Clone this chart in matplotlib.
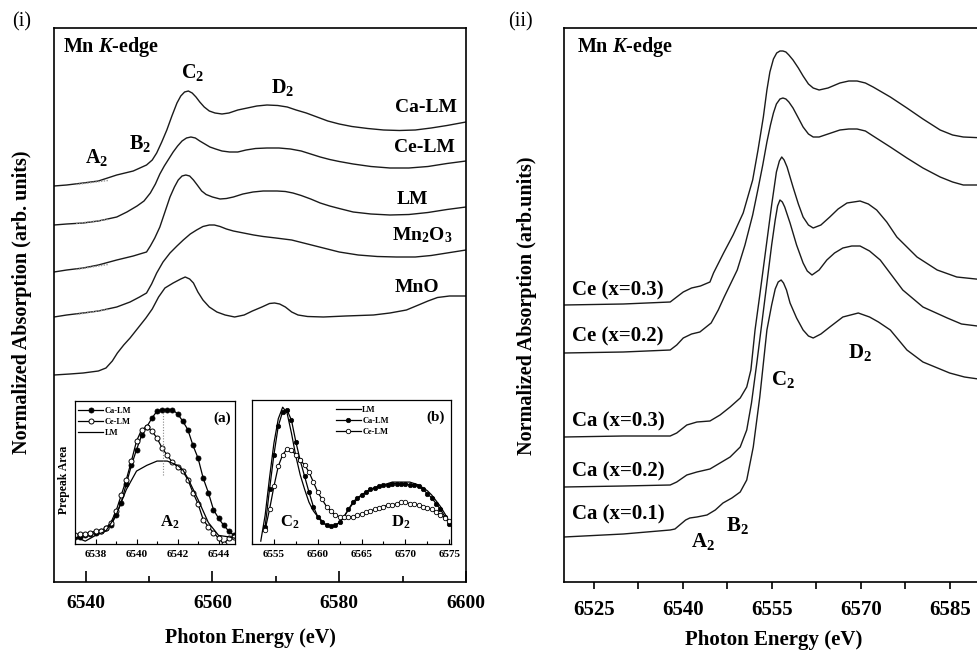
import matplotlib
matplotlib.use('Agg')
import matplotlib.pyplot as plt
from matplotlib.ticker import MultipleLocator, NullLocator

plt.rcParams['font.family'] = ['Liberation Serif', 'DejaVu Serif']
plt.rcParams['font.weight'] = 'bold'
plt.rcParams['mathtext.fontset'] = 'custom'
plt.rcParams['mathtext.rm'] = 'Liberation Serif:bold'
plt.rcParams['mathtext.it'] = 'Liberation Serif:italic:bold'
plt.rcParams['mathtext.bf'] = 'Liberation Serif:bold'

# ---------------- Panel (i): reference spectra (energy eV, normalized absorption + offset) -------------
ca_lm_E = [6535.0, 6537.0, 6539.6, 6542.0, 6544.9, 6547.5, 6549.6, 6550.5, 6551.2, 6552.0, 6552.8, 6553.6,
           6554.4, 6555.0, 6555.6, 6556.2, 6556.8, 6557.4, 6558.0, 6558.7, 6559.5, 6560.4, 6561.5, 6562.6,
           6564.0, 6565.5, 6567.0, 6568.6, 6570.3, 6571.8, 6573.2, 6574.8, 6576.5, 6578.2, 6580.0, 6582.0,
           6584.5, 6587.0, 6589.5, 6592.0, 6594.5, 6597.0, 6600.0]
ca_lm_y = [3.96, 3.97, 3.99, 4.01, 4.07, 4.11, 4.17, 4.22, 4.29, 4.40, 4.52, 4.66,
           4.79, 4.86, 4.90, 4.91, 4.89, 4.85, 4.80, 4.75, 4.71, 4.69, 4.68, 4.69,
           4.72, 4.74, 4.76, 4.77, 4.765, 4.75, 4.72, 4.69, 4.65, 4.61, 4.58, 4.555,
           4.535, 4.52, 4.515, 4.52, 4.54, 4.565, 4.60]

ce_lm_E = [6535.0, 6537.0, 6539.6, 6542.0, 6544.9, 6546.5, 6548.1, 6549.2, 6550.2, 6551.0, 6551.7, 6552.4,
           6553.0, 6553.8, 6554.5, 6555.2, 6555.9, 6556.6, 6557.3, 6558.0, 6558.8, 6559.6, 6560.5, 6561.5,
           6562.7, 6564.0, 6565.3, 6566.8, 6568.6, 6570.5, 6572.3, 6574.0, 6575.5, 6577.0, 6578.5, 6580.0,
           6582.2, 6585.0, 6588.0, 6591.0, 6594.0, 6597.0, 6600.0]
ce_lm_y = [3.57, 3.58, 3.59, 3.61, 3.65, 3.70, 3.76, 3.81, 3.89, 3.98, 4.08, 4.16,
           4.22, 4.30, 4.36, 4.41, 4.44, 4.45, 4.44, 4.41, 4.38, 4.35, 4.33, 4.31,
           4.30, 4.30, 4.32, 4.335, 4.34, 4.34, 4.33, 4.31, 4.28, 4.25, 4.225, 4.205,
           4.18, 4.155, 4.14, 4.14, 4.155, 4.185, 4.21]

lm_E = [6535.0, 6537.0, 6539.6, 6542.0, 6544.9, 6547.5, 6548.8, 6549.6, 6550.2, 6550.9, 6551.7, 6552.5,
        6553.3, 6554.0, 6554.6, 6555.2, 6555.8, 6556.4, 6557.0, 6557.6, 6558.3, 6559.0, 6560.0, 6561.2,
        6562.2, 6563.3, 6564.8, 6566.4, 6568.0, 6570.2, 6571.5, 6572.7, 6574.0, 6575.5, 6577.0, 6578.5,
        6580.0, 6582.2, 6585.0, 6588.0, 6591.0, 6594.0, 6597.0, 6600.0]
lm_y = [3.10, 3.12, 3.14, 3.17, 3.22, 3.26, 3.285, 3.30, 3.36, 3.44, 3.55, 3.70,
        3.85, 3.95, 4.02, 4.06, 4.07, 4.06, 4.02, 3.97, 3.91, 3.875, 3.85, 3.83,
        3.835, 3.85, 3.88, 3.90, 3.91, 3.91, 3.905, 3.89, 3.865, 3.83, 3.79, 3.76,
        3.735, 3.70, 3.68, 3.67, 3.675, 3.695, 3.725, 3.75]

mn2o3_E = [6535.0, 6537.0, 6539.6, 6542.0, 6544.9, 6547.0, 6548.5, 6549.6, 6550.4, 6551.2, 6552.2, 6553.3,
           6554.4, 6555.4, 6556.5, 6557.5, 6558.5, 6559.5, 6560.3, 6561.2, 6562.2, 6563.3, 6564.9, 6566.5,
           6568.0, 6570.0, 6572.5, 6575.0, 6577.5, 6580.0, 6583.0, 6586.0, 6589.0, 6592.0, 6594.5, 6597.0,
           6600.0]
mn2o3_y = [2.65, 2.67, 2.69, 2.71, 2.75, 2.80, 2.85, 2.89, 2.98, 3.09, 3.20, 3.29,
           3.36, 3.42, 3.48, 3.52, 3.555, 3.57, 3.57, 3.555, 3.53, 3.51, 3.49, 3.47,
           3.455, 3.44, 3.42, 3.38, 3.34, 3.30, 3.27, 3.255, 3.25, 3.25, 3.265, 3.29,
           3.32]

mno_E = [6535.0, 6537.5, 6539.6, 6542.0, 6543.2, 6544.2, 6545.0, 6546.0, 6547.0, 6548.5, 6549.5, 6550.5,
         6551.5, 6552.5, 6553.8, 6555.0, 6555.7, 6556.4, 6557.0, 6557.7, 6558.5, 6559.5, 6560.7, 6562.0,
         6563.5, 6565.0, 6566.3, 6567.8, 6569.0, 6569.8, 6570.6, 6571.5, 6572.5, 6573.5, 6575.0, 6577.5,
         6581.0, 6585.4, 6588.0, 6590.6, 6592.5, 6594.0, 6595.5, 6597.4, 6600.0]
mno_y = [2.07, 2.08, 2.09, 2.11, 2.14, 2.21, 2.29, 2.37, 2.44, 2.56, 2.64, 2.73,
         2.85, 2.94, 2.99, 3.03, 3.05, 3.03, 2.99, 2.90, 2.82, 2.75, 2.70, 2.67,
         2.65, 2.67, 2.71, 2.75, 2.785, 2.79, 2.78, 2.75, 2.70, 2.67, 2.655, 2.65,
         2.66, 2.67, 2.69, 2.72, 2.77, 2.81, 2.845, 2.86, 2.86]

# pre-edge baseline guides (dotted, grey)
base_E = [6538.5, 6543.5]
base_ca = [3.975, 4.015]
base_ce = [3.585, 3.625]
base_lm = [3.125, 3.175]
base_mn2o3 = [2.675, 2.725]

# ---------------- Inset (a): pre-peak A2 ----------------
a_E = [6537.0, 6537.25, 6537.5, 6537.75, 6538.0, 6538.25, 6538.5, 6538.75, 6539.0, 6539.25, 6539.5,
       6539.75, 6540.0, 6540.25, 6540.5, 6540.75, 6541.0, 6541.25, 6541.5, 6541.75, 6542.0, 6542.25,
       6542.5, 6542.75, 6543.0, 6543.25, 6543.5, 6543.75, 6544.0, 6544.25, 6544.5, 6544.75]
a_ca = [0.05, 0.05, 0.06, 0.07, 0.08, 0.09, 0.11, 0.13, 0.20, 0.29, 0.42,
        0.55, 0.66, 0.76, 0.82, 0.88, 0.93, 0.94, 0.94, 0.94, 0.91, 0.86,
        0.80, 0.69, 0.60, 0.46, 0.36, 0.24, 0.18, 0.13, 0.09, 0.06]
a_ce = [0.06, 0.07, 0.07, 0.08, 0.09, 0.09, 0.11, 0.15, 0.23, 0.34, 0.45,
        0.58, 0.72, 0.80, 0.82, 0.79, 0.74, 0.67, 0.62, 0.57, 0.54, 0.51,
        0.45, 0.36, 0.28, 0.17, 0.12, 0.08, 0.04, 0.00, 0.04, 0.05]
a_lm_E = [6537.0, 6537.5, 6538.0, 6538.5, 6539.0, 6539.5, 6540.0, 6540.5, 6541.0, 6541.5, 6542.0,
          6542.25, 6542.5, 6543.0, 6543.5, 6544.0, 6544.5, 6544.8]
a_lm = [0.05, 0.02, 0.06, 0.09, 0.20, 0.38, 0.51, 0.55, 0.58, 0.58, 0.55,
        0.52, 0.46, 0.31, 0.15, 0.06, 0.05, 0.04]

# ---------------- Inset (b): white line C2 / D2 ----------------
b_E = [6554.0, 6554.5, 6555.0, 6555.5, 6556.0, 6556.5, 6557.0, 6557.5, 6558.0, 6558.5, 6559.0,
       6559.5, 6560.0, 6560.5, 6561.0, 6561.5, 6562.0, 6562.5, 6563.0, 6563.5, 6564.0, 6564.5,
       6565.0, 6565.5, 6566.0, 6566.5, 6567.0, 6567.5, 6568.0, 6568.5, 6569.0, 6569.5, 6570.0,
       6570.5, 6571.0, 6571.5, 6572.0, 6572.5, 6573.0, 6573.5, 6574.0, 6574.5, 6575.0]
b_lm = [0.20, 0.46, 0.70, 0.87, 0.95, 0.91, 0.77, 0.61, 0.48, 0.38, 0.29,
        0.23, 0.19, 0.16, 0.13, 0.125, 0.13, 0.15, 0.19, 0.24, 0.28, 0.31,
        0.34, 0.36, 0.38, 0.39, 0.40, 0.41, 0.42, 0.43, 0.43, 0.43, 0.43,
        0.43, 0.42, 0.41, 0.39, 0.37, 0.34, 0.30, 0.26, 0.21, 0.155]
b_ca = [0.12, 0.38, 0.62, 0.82, 0.92, 0.93, 0.86, 0.71, 0.58, 0.47, 0.36,
        0.26, 0.19, 0.15, 0.13, 0.125, 0.13, 0.15, 0.19, 0.24, 0.29, 0.32,
        0.34, 0.36, 0.38, 0.39, 0.40, 0.41, 0.41, 0.42, 0.42, 0.42, 0.42,
        0.41, 0.41, 0.40, 0.38, 0.35, 0.32, 0.28, 0.24, 0.19, 0.14]
b_ce = [0.10, 0.24, 0.40, 0.54, 0.62, 0.66, 0.65, 0.62, 0.58, 0.55, 0.50,
        0.43, 0.36, 0.31, 0.26, 0.23, 0.20, 0.19, 0.19, 0.19, 0.19, 0.20,
        0.21, 0.22, 0.23, 0.24, 0.25, 0.26, 0.27, 0.27, 0.28, 0.29, 0.29,
        0.28, 0.28, 0.27, 0.26, 0.25, 0.24, 0.22, 0.20, 0.18, 0.16]
b_lm_start_E = [6553.5]
b_lm_start_y = [0.02]

# ---------------- Panel (ii): doped samples ----------------
ce03_E = [6520.0, 6530.0, 6537.9, 6539.0, 6540.1, 6541.5, 6543.0, 6544.6, 6545.2, 6546.9, 6548.5, 6550.2,
          6551.8, 6552.7, 6553.6, 6554.2, 6554.7, 6555.3, 6555.85, 6556.4, 6556.9, 6557.4, 6557.9, 6558.6,
          6559.5, 6560.3, 6561.2, 6562.0, 6563.0, 6564.5, 6566.5, 6568.0, 6569.4, 6570.8, 6572.1, 6575.0,
          6577.8, 6580.5, 6583.4, 6585.5, 6587.3, 6591.0]
ce03_y = [2.77, 2.78, 2.80, 2.85, 2.90, 2.94, 2.96, 3.00, 3.09, 3.29, 3.47, 3.69,
          4.02, 4.32, 4.65, 4.92, 5.10, 5.23, 5.29, 5.31, 5.31, 5.30, 5.27, 5.22,
          5.14, 5.06, 4.98, 4.94, 4.92, 4.94, 4.99, 5.01, 5.01, 4.99, 4.95, 4.85,
          4.74, 4.63, 4.52, 4.47, 4.45, 4.44]

ce02_E = [6520.0, 6530.0, 6537.9, 6539.0, 6540.1, 6541.5, 6542.9, 6544.8, 6546.0, 6547.0, 6549.2, 6550.5,
          6551.8, 6552.7, 6553.5, 6554.2, 6554.8, 6555.3, 6555.8, 6556.4, 6556.9, 6557.4, 6557.9, 6558.6,
          6559.5, 6560.3, 6561.2, 6562.0, 6563.0, 6564.5, 6566.5, 6568.0, 6569.4, 6570.8, 6572.1, 6575.0,
          6577.8, 6580.5, 6583.4, 6585.5, 6587.3, 6591.0]
ce02_y = [2.29, 2.30, 2.32, 2.37, 2.44, 2.48, 2.50, 2.59, 2.72, 2.85, 3.12, 3.37,
          3.67, 3.93, 4.17, 4.40, 4.57, 4.69, 4.78, 4.83, 4.84, 4.83, 4.80, 4.74,
          4.64, 4.55, 4.48, 4.45, 4.45, 4.48, 4.52, 4.53, 4.53, 4.51, 4.46, 4.35,
          4.24, 4.14, 4.05, 4.00, 3.97, 3.97]

ca03_E = [6520.0, 6530.0, 6537.9, 6539.0, 6540.7, 6542.4, 6544.6, 6546.3, 6548.0, 6549.7, 6550.8, 6551.5,
          6552.2, 6553.0, 6554.0, 6555.0, 6555.8, 6556.3, 6556.7, 6557.1, 6557.6, 6558.6, 6559.5, 6560.3,
          6561.2, 6562.0, 6563.3, 6564.8, 6566.2, 6567.7, 6569.9, 6571.3, 6572.7, 6574.4, 6576.1, 6579.5,
          6582.9, 6586.2, 6591.0]
ca03_y = [1.45, 1.46, 1.46, 1.49, 1.57, 1.60, 1.61, 1.67, 1.75, 1.84, 1.95, 2.12,
          2.52, 2.87, 3.32, 3.77, 4.10, 4.21, 4.25, 4.22, 4.15, 3.95, 3.78, 3.65,
          3.57, 3.54, 3.57, 3.65, 3.73, 3.79, 3.81, 3.78, 3.72, 3.60, 3.45, 3.25,
          3.12, 3.05, 3.02]

ca02_E = [6520.0, 6530.0, 6537.9, 6539.0, 6540.7, 6542.4, 6544.6, 6546.3, 6548.0, 6549.7, 6550.8, 6551.6,
          6552.5, 6553.2, 6554.2, 6555.0, 6555.6, 6556.0, 6556.4, 6556.8, 6557.2, 6558.1, 6559.2, 6560.3,
          6561.0, 6561.8, 6563.0, 6564.3, 6565.6, 6567.0, 6568.5, 6569.9, 6571.5, 6573.3, 6575.2, 6577.1,
          6580.5, 6584.6, 6587.0, 6591.0]
ca02_y = [0.95, 0.96, 0.97, 1.00, 1.07, 1.10, 1.13, 1.19, 1.25, 1.35, 1.52, 1.79,
          2.19, 2.52, 2.99, 3.37, 3.62, 3.76, 3.82, 3.80, 3.75, 3.59, 3.37, 3.19,
          3.11, 3.07, 3.12, 3.22, 3.29, 3.34, 3.36, 3.36, 3.31, 3.22, 3.07, 2.92,
          2.75, 2.64, 2.58, 2.55]

ca01_E = [6520.0, 6530.0, 6537.9, 6538.7, 6539.5, 6540.5, 6541.2, 6542.4, 6544.1, 6545.5, 6546.8, 6548.3,
          6549.7, 6550.8, 6551.9, 6553.0, 6554.2, 6555.0, 6555.6, 6556.1, 6556.6, 6557.0, 6557.5, 6558.1,
          6559.2, 6560.3, 6561.2, 6562.0, 6563.3, 6564.8, 6567.0, 6569.6, 6571.5, 6573.0, 6575.0, 6577.8,
          6580.5, 6585.0, 6587.5, 6591.0]
ca01_y = [0.45, 0.48, 0.52, 0.53, 0.57, 0.62, 0.64, 0.65, 0.67, 0.72, 0.79, 0.84,
          0.90, 1.02, 1.35, 1.85, 2.52, 2.77, 2.93, 3.00, 3.02, 2.99, 2.92, 2.79,
          2.64, 2.52, 2.46, 2.44, 2.48, 2.55, 2.65, 2.69, 2.65, 2.60, 2.52, 2.32,
          2.20, 2.09, 2.05, 2.02]

# ======================= FIGURE =======================
W, H = 977.0, 651.0
fig = plt.figure(figsize=(9.77, 6.51), dpi=100)

LW = 1.0
SP = 1.2

def frac(l, t, r, b):
    return [l / W, 1 - b / H, (r - l) / W, (b - t) / H]

# ---------- Panel (i) ----------
axL = fig.add_axes(frac(54, 28, 466, 582))
for E, y in [(ca_lm_E, ca_lm_y), (ce_lm_E, ce_lm_y), (lm_E, lm_y), (mn2o3_E, mn2o3_y), (mno_E, mno_y)]:
    axL.plot(E, y, color='#1a1a1a', lw=LW, solid_joinstyle='round')
for yb in [base_ca, base_ce, base_lm, base_mn2o3]:
    axL.plot(base_E, yb, color='#999999', lw=1.0, ls=(0, (1, 1)))
axL.set_xlim(6535, 6600)
axL.set_ylim(0, 5.54)
axL.yaxis.set_major_locator(NullLocator())
axL.xaxis.set_major_locator(MultipleLocator(20))
axL.xaxis.set_minor_locator(MultipleLocator(10))
axL.tick_params(axis='x', which='major', direction='in', length=8, width=1.2, labelsize=14, pad=9)
axL.tick_params(axis='x', which='minor', direction='in', length=4, width=1.2)
for s in axL.spines.values():
    s.set_linewidth(SP)
axL.set_xlabel('Photon Energy (eV)', fontsize=14.5, fontweight='bold')
axL.xaxis.set_label_coords(0.478, -0.083)
axL.set_ylabel('Normalized Absorption (arb. units)', fontsize=14.5, fontweight='bold')
axL.yaxis.set_label_coords(-0.053, 0.505)

axL.text(6536.4, 5.35, r'Mn $\mathit{K}$-edge', fontsize=14.5, ha='left', va='center')
axL.text(6556.8, 5.10, r'C$_2$', fontsize=14.5, ha='center', va='center')
axL.text(6571.1, 4.95, r'D$_2$', fontsize=14.5, ha='center', va='center')
axL.text(6548.6, 4.39, r'B$_2$', fontsize=14.5, ha='center', va='center')
axL.text(6541.8, 4.24, r'A$_2$', fontsize=14.5, ha='center', va='center')
axL.text(6598.6, 4.74, 'Ca-LM', fontsize=14, ha='right', va='center')
axL.text(6598.3, 4.34, 'Ce-LM', fontsize=14, ha='right', va='center')
axL.text(6591.6, 3.83, 'LM', fontsize=14, ha='center', va='center')
axL.text(6593.1, 3.47, r'Mn$_2$O$_3$', fontsize=14, ha='center', va='center')
axL.text(6592.3, 2.95, 'MnO', fontsize=14, ha='center', va='center')
fig.text(22 / W, 1 - 22 / H, '(i)', fontsize=14.5, fontweight='normal', ha='center', va='center')

# ---------- Inset (a) ----------
axa = fig.add_axes(frac(75, 401, 235, 544))
axa.plot(a_E, a_ca, color='black', lw=0.9, marker='o', ms=3.6, mfc='black', mec='black', mew=0.6, label='Ca-LM')
axa.plot(a_E, a_ce, color='black', lw=0.9, marker='o', ms=3.6, mfc='white', mec='black', mew=0.7, label='Ce-LM')
axa.plot(a_lm_E, a_lm, color='black', lw=0.9, label='LM')
axa.plot([6541.3, 6541.3], [0.48, 0.93], color='#888888', lw=0.8, ls=(0, (1, 1.5)))
axa.set_xlim(6537, 6544.8)
axa.set_ylim(0, 1.0)
axa.yaxis.set_major_locator(NullLocator())
axa.xaxis.set_major_locator(MultipleLocator(2))
axa.xaxis.set_minor_locator(MultipleLocator(1))
axa.tick_params(axis='x', which='major', direction='in', length=3.5, width=0.8, labelsize=8, pad=4)
axa.tick_params(axis='x', which='minor', direction='in', length=2, width=0.8)
for s in axa.spines.values():
    s.set_linewidth(0.9)
axa.set_ylabel('Prepeak Area', fontsize=8.5, fontweight='bold')
axa.yaxis.set_label_coords(-0.03, 0.45)
axa.legend(loc='upper left', bbox_to_anchor=(0.02, 0.96), frameon=False, fontsize=6,
           handlelength=3.0, handletextpad=0.2, labelspacing=0.35, borderaxespad=0, borderpad=0)
axa.text(0.92, 0.88, '(a)', transform=axa.transAxes, fontsize=11, ha='center', va='center')
axa.text(6541.6, 0.15, r'A$_2$', fontsize=12, ha='center', va='center')

# ---------- Inset (b) ----------
axb = fig.add_axes(frac(252, 400, 451, 544))
axb.plot(b_lm_start_E + b_E, b_lm_start_y + b_lm, color='black', lw=0.9, label='LM')
axb.plot(b_E, b_ca, color='black', lw=0.9, marker='o', ms=3.2, mfc='black', mec='black', mew=0.5, label='Ca-LM')
axb.plot(b_E, b_ce, color='black', lw=0.9, marker='o', ms=3.2, mfc='white', mec='black', mew=0.6, label='Ce-LM')
axb.set_xlim(6552.5, 6575.2)
axb.set_ylim(0, 1.0)
axb.yaxis.set_major_locator(NullLocator())
axb.xaxis.set_major_locator(MultipleLocator(5))
axb.xaxis.set_minor_locator(MultipleLocator(2.5))
axb.tick_params(axis='x', which='major', direction='in', length=3.5, width=0.8, labelsize=8, pad=4)
axb.tick_params(axis='x', which='minor', direction='in', length=2, width=0.8)
for s in axb.spines.values():
    s.set_linewidth(0.9)
axb.legend(loc='upper left', bbox_to_anchor=(0.42, 0.96), frameon=False, fontsize=6,
           handlelength=3.0, handletextpad=0.2, labelspacing=0.35, borderaxespad=0, borderpad=0)
axb.text(0.92, 0.88, '(b)', transform=axb.transAxes, fontsize=11, ha='center', va='center')
axb.text(6556.8, 0.15, r'C$_2$', fontsize=12, ha='center', va='center')
axb.text(6569.5, 0.15, r'D$_2$', fontsize=12, ha='center', va='center')

# ---------- Panel (ii) ----------
axR = fig.add_axes(frac(564, 28, 992, 582))
for E, y in [(ce03_E, ce03_y), (ce02_E, ce02_y), (ca03_E, ca03_y), (ca02_E, ca02_y), (ca01_E, ca01_y)]:
    axR.plot(E, y, color='#1a1a1a', lw=LW, solid_joinstyle='round')
axR.set_xlim(6520, 6520 + (992 - 564) / 5.933)
axR.set_ylim(0, 5.54)
axR.yaxis.set_major_locator(NullLocator())
axR.xaxis.set_major_locator(MultipleLocator(15))
axR.xaxis.set_minor_locator(MultipleLocator(7.5))
axR.tick_params(axis='x', which='major', direction='out', length=5, width=1.2, labelsize=15, pad=8)
axR.tick_params(axis='x', which='minor', direction='out', length=5, width=1.2)
for s in axR.spines.values():
    s.set_linewidth(SP)
axR.spines['right'].set_visible(False)
axR.set_xlabel('Photon Energy (eV)', fontsize=15, fontweight='bold')
axR.xaxis.set_label_coords(0.489, -0.087)
axR.set_ylabel('Normalized Absorption (arb.units)', fontsize=14.5, fontweight='bold')
axR.yaxis.set_label_coords(-0.063, 0.498)

axR.text(6522.2, 5.35, r'Mn $\mathit{K}$-edge', fontsize=14.5, ha='left', va='center')
axR.text(6521.35, 2.92, 'Ce (x=0.3)', fontsize=15, ha='left', va='center')
axR.text(6521.35, 2.46, 'Ce (x=0.2)', fontsize=15, ha='left', va='center')
axR.text(6521.35, 1.61, 'Ca (x=0.3)', fontsize=15, ha='left', va='center')
axR.text(6521.35, 1.11, 'Ca (x=0.2)', fontsize=15, ha='left', va='center')
axR.text(6521.35, 0.68, 'Ca (x=0.1)', fontsize=15, ha='left', va='center')
axR.text(6543.4, 0.41, r'A$_2$', fontsize=15, ha='center', va='center')
axR.text(6549.2, 0.57, r'B$_2$', fontsize=15, ha='center', va='center')
axR.text(6556.9, 2.02, r'C$_2$', fontsize=15, ha='center', va='center')
axR.text(6569.9, 2.30, r'D$_2$', fontsize=15, ha='center', va='center')
fig.text(520 / W, 1 - 22 / H, '(ii)', fontsize=14.5, fontweight='normal', ha='center', va='center')

fig.savefig('out.png', dpi=100)
